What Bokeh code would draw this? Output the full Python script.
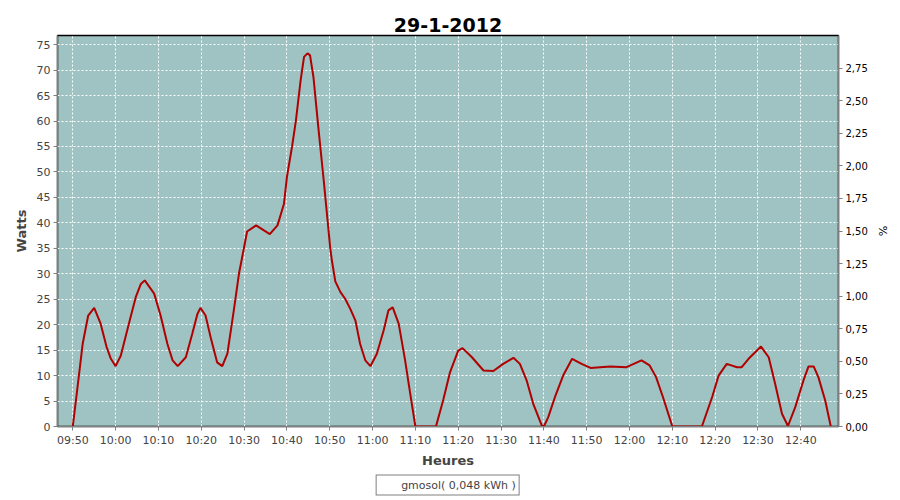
from bokeh.plotting import figure
from bokeh.layouts import column
from bokeh.models import (Range1d, LinearAxis, FixedTicker, CustomJSTickFormatter,
                          Legend, LegendItem, ColumnDataSource)
from bokeh.embed import file_html
from bokeh.resources import INLINE

# ---- data ----
title_text = "29-1-2012"
start_time = "09:50"
# elapsed minutes since 09:50 and power in watts
minutes = [0, 1.1, 2.3, 3.6, 5.0, 6.5, 7.9, 8.9, 10.0, 11.2, 13.1, 14.7, 15.9, 16.8,
           19.0, 20.5, 22.1, 23.3, 24.5, 26.4, 27.9, 29.1, 29.8, 31.0, 32.2, 33.7,
           34.9, 36.1, 37.6, 38.8, 40.0, 40.7, 42.8, 46.0, 47.8, 49.3, 50.0, 51.2,
           52.1, 53.2, 54.0, 54.8, 55.4, 56.2, 57.4, 58.6, 60.1, 60.5, 61.3, 62.5,
           63.6, 64.8, 66.0, 67.1, 68.3, 69.5, 71.0, 72.6, 73.7, 74.7, 76.1, 77.6,
           78.8, 80.0, 84.8, 86.5, 88.1, 90.0, 91.0, 93.2, 95.9, 98.2, 100.5, 102.9,
           104.4, 106.0, 107.5, 109.5, 110.0, 111.0, 112.6, 114.5, 116.6, 118.8,
           120.9, 125.5, 129.3, 132.8, 134.7, 136.2, 137.8, 140.0, 146.9, 149.3,
           150.8, 152.7, 155.1, 156.2, 157.8, 160.7, 162.5, 164.0, 165.6, 167.0,
           168.7, 170.6, 171.8, 173.0, 174.1, 175.7, 177.0]
watts = [0, 7.7, 16.2, 21.8, 23.3, 20.2, 15.6, 13.3, 11.85, 13.9, 20.2, 25.4, 28.0, 28.7,
         26.1, 21.8, 16.2, 13.0, 11.85, 13.6, 18.2, 22.1, 23.3, 21.8, 17.5, 12.6,
         11.85, 14.3, 22.8, 30.0, 35.2, 38.3, 39.5, 37.8, 39.5, 43.7, 49.0, 55.0,
         60.1, 68.0, 72.6, 73.3, 72.9, 68.6, 58.2, 48.3, 35.2, 32.6, 28.5, 26.4,
         25.1, 23.1, 20.8, 16.2, 13.0, 11.85, 14.3, 18.9, 22.8, 23.4, 20.2, 13.0,
         6.4, 0, 0, 5.2, 10.7, 14.9, 15.4, 13.6, 11.0, 10.9, 12.3, 13.5,
         12.3, 9.0, 4.5, 0.2, 0, 1.8, 5.8, 10.0, 13.3, 12.3,
         11.5, 11.8, 11.65, 13.0, 12.0, 9.7, 5.8, 0, 0, 5.8,
         10.0, 12.3, 11.65, 11.65, 13.3, 15.7, 13.6, 8.4, 2.5, 0.1,
         3.8, 9.0, 11.8, 11.8, 9.7, 5.1, 0]
series_label = "gmosol( 0,048 kWh )"
x_tick_minutes = [0, 10, 20, 30, 40, 50, 60, 70, 80, 90, 100, 110, 120, 130, 140, 150, 160, 170]
x_tick_labels = ["09:50", "10:00", "10:10", "10:20", "10:30", "10:40", "10:50", "11:00",
                 "11:10", "11:20", "11:30", "11:40", "11:50", "12:00", "12:10", "12:20",
                 "12:30", "12:40"]
y_ticks = [0, 5, 10, 15, 20, 25, 30, 35, 40, 45, 50, 55, 60, 65, 70, 75]
pct_ticks = [0, 0.25, 0.5, 0.75, 1.0, 1.25, 1.5, 1.75, 2.0, 2.25, 2.5, 2.75]

FONT = "DejaVu Sans"
GRAY = "#808080"
LINE_COLOR = "#B00000"

p = figure(width=900, height=470, output_backend="svg", toolbar_location=None,
           x_range=Range1d(-3.57, 178.8), y_range=Range1d(0, 76.8),
           min_border_left=57, min_border_right=62, min_border_top=35, min_border_bottom=44)
p.extra_y_ranges = {"pct": Range1d(0, 3.0)}

p.title.text = title_text
p.title.align = "center"
p.title.text_font = FONT
p.title.text_font_size = "19px"
p.title.text_font_style = "bold"
p.title.text_color = "black"
p.title.standoff = 8
p.title.offset = 0

p.background_fill_color = "#9FC2C2"
p.border_fill_color = "white"
p.outline_line_color = "black"
p.outline_line_width = 1.5

src = ColumnDataSource(dict(x=minutes, y=watts))
r = p.line("x", "y", source=src, line_color=LINE_COLOR, line_width=2)

# x axis
xa = p.xaxis[0]
xa.ticker = FixedTicker(ticks=x_tick_minutes)
xa.major_label_overrides = {m: l for m, l in zip(x_tick_minutes, x_tick_labels)}
xa.axis_label = "Heures"

# left axis
ya = p.yaxis[0]
ya.ticker = FixedTicker(ticks=y_ticks)
ya.axis_label = "Watts"

# right axis
ra = LinearAxis(y_range_name="pct", axis_label="%",
                ticker=FixedTicker(ticks=pct_ticks),
                formatter=CustomJSTickFormatter(code="return tick.toFixed(2).replace('.', ',');"))
p.add_layout(ra, "right")

for ax in [xa, ya, ra]:
    ax.axis_line_color = GRAY
    ax.major_tick_line_color = GRAY
    ax.major_tick_in = 0
    ax.major_tick_out = 4
    ax.minor_tick_line_color = None
    ax.major_label_text_font = FONT
    ax.major_label_text_font_size = "11px"
    ax.major_label_text_color = "#444444"
    ax.major_label_standoff = 3
    ax.axis_label_text_font = FONT
    ax.axis_label_text_font_size = "13px"
    ax.axis_label_text_font_style = "bold"
    ax.axis_label_text_color = "#444444"
    ax.axis_label_standoff = 5
xa.axis_label_standoff = 3
ra.major_label_text_color = "black"
ra.major_label_text_font_size = "10px"
ra.axis_label_text_font_style = "normal"
ra.axis_label_text_color = "black"
ra.axis_label_text_font_size = "11px"

for g in [p.xgrid[0], p.ygrid[0]]:
    g.grid_line_color = "white"
    g.grid_line_dash = "2 2"
    g.grid_line_width = 1
p.xgrid[0].ticker = FixedTicker(ticks=x_tick_minutes)
p.ygrid[0].ticker = FixedTicker(ticks=y_ticks)

# legend strip below the chart (separate small figure so it is never clipped)
lf = figure(width=900, height=30, output_backend="svg", toolbar_location=None,
            x_axis_type=None, y_axis_type=None,
            x_range=Range1d(0, 1), y_range=Range1d(0, 1),
            min_border_left=0, min_border_right=0, min_border_top=0, min_border_bottom=0)
lf.outline_line_color = None
lf.background_fill_color = "white"
lf.border_fill_color = "white"
proxy = lf.line(x=[], y=[], line_color=LINE_COLOR, line_width=2)

legend = Legend(items=[LegendItem(label=series_label, renderers=[proxy])],
                location="center", orientation="horizontal",
                border_line_color="black", border_line_width=1,
                background_fill_color="white", background_fill_alpha=1,
                label_text_font=FONT, label_text_font_size="11px",
                label_text_color="#444444",
                glyph_width=18, glyph_height=12, label_height=12,
                padding=3, margin=0, spacing=0, label_standoff=4)
lf.add_layout(legend, "center")

layout = column(p, lf, spacing=0)

open("out.html", "w").write(file_html(layout, INLINE))
